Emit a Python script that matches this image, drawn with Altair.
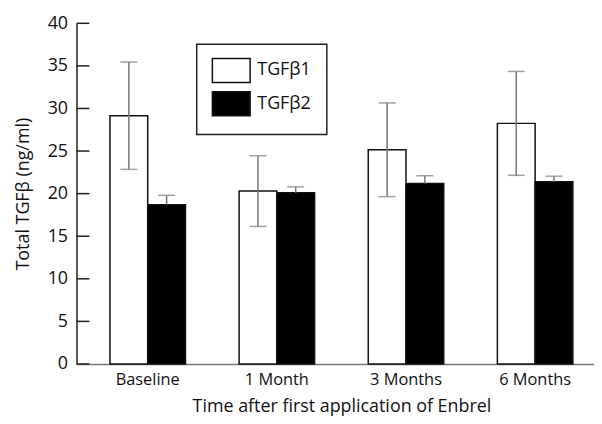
import altair as alt
import pandas as pd

categories = ["Baseline", "1 Month", "3 Months", "6 Months"]
series = ["TGFβ1", "TGFβ2"]
tgf1_mean = [29.15, 20.3, 25.15, 28.25]
tgf1_err = [6.3, 4.15, 5.5, 6.1]
tgf2_mean = [18.7, 20.1, 21.2, 21.4]
tgf2_err = [1.1, 0.7, 0.9, 0.65]
y_ticks = [0, 5, 10, 15, 20, 25, 30, 35, 40]

FONT = "Open Sans"

bar_rows, cap_rows = [], []
for i, c in enumerate(categories):
    m1, e1 = tgf1_mean[i], tgf1_err[i]
    m2, e2 = tgf2_mean[i], tgf2_err[i]
    bar_rows.append({"time": c, "series": series[0], "mean": m1, "lo": m1 - e1, "hi": m1 + e1})
    bar_rows.append({"time": c, "series": series[1], "mean": m2, "lo": m2, "hi": m2 + e2})
    cap_rows.append({"time": c, "series": series[0], "cap": m1 + e1})
    cap_rows.append({"time": c, "series": series[0], "cap": m1 - e1})
    cap_rows.append({"time": c, "series": series[1], "cap": m2 + e2})

bars_df = pd.DataFrame(bar_rows)
caps_df = pd.DataFrame(cap_rows)
ticks_df = pd.DataFrame({"v": y_ticks})

x_enc = alt.X(
    "time:N",
    sort=categories,
    scale=alt.Scale(domain=categories, range=[0, 533.4], paddingInner=0.4154, paddingOuter=0.259),
    axis=alt.Axis(
        title="Time after first application of Enbrel",
        labelAngle=0,
        ticks=False,
        domainColor="#777777",
        domainWidth=1.5,
        labelPadding=8,
        titlePadding=9,
        labelFontSize=16.5,
        titleFontSize=18,
        labelFont=FONT,
        titleFont=FONT,
        labelColor="#111111",
        titleColor="#111111",
        titleFontWeight="normal",
    ),
)
xo_enc = alt.XOffset("series:N", sort=series, scale=alt.Scale(domain=series))
y_scale = alt.Scale(domain=[0, 40], nice=False)

bars = alt.Chart(bars_df).mark_bar(stroke="#111111", strokeWidth=1.5).encode(
    x=x_enc,
    xOffset=xo_enc,
    y=alt.Y(
        "mean:Q",
        scale=y_scale,
        axis=alt.Axis(
            values=y_ticks,
            ticks=False,
            grid=False,
            domainColor="#222222",
            domainWidth=1.5,
            labelPadding=9,
            labelFontSize=18,
            labelFont=FONT,
            labelColor="#111111",
            title="Total TGFβ (ng/ml)",
            titleFontSize=18,
            titleFont=FONT,
            titleColor="#111111",
            titleFontWeight="normal",
            titlePadding=15,
        ),
    ),
    fill=alt.Fill(
        "series:N",
        sort=series,
        scale=alt.Scale(domain=series, range=["white", "black"]),
        legend=alt.Legend(
            title=None,
            orient="none",
            legendX=121,
            legendY=21,
            padding=16,
            strokeColor="#222222",
            symbolType="M-1.1,-1.23L2.8,-1.23L2.8,1.23L-1.1,1.23Z",
            symbolSize=380,
            symbolStrokeColor="#111111",
            symbolStrokeWidth=1.5,
            symbolOpacity=1,
            labelOffset=24,
            labelFontSize=18,
            labelFont=FONT,
            labelColor="#111111",
            labelExpr="datum.label + '\u00a0\u00a0\u00a0\u00a0'",
            rowPadding=2.5,
        ),
    ),
)

err = alt.Chart(bars_df).mark_rule(color="#777777", strokeWidth=1.5).encode(
    x=x_enc, xOffset=xo_enc, y=alt.Y("lo:Q", scale=y_scale), y2="hi:Q"
)

caps = alt.Chart(caps_df).mark_tick(color="#777777", thickness=1.5, size=17).encode(
    x=x_enc, xOffset=xo_enc, y=alt.Y("cap:Q", scale=y_scale)
)

yticks = alt.Chart(ticks_df).mark_rule(color="#222222", strokeWidth=1.5).encode(
    y=alt.Y("v:Q", scale=y_scale), x=alt.value(0), x2=alt.value(13)
)

chart = (
    alt.layer(bars, err, caps, yticks)
    .properties(
        width=521,
        height=343,
        autosize=alt.AutoSizeParams(type="none"),
        padding={"left": 69, "top": 14, "right": 0, "bottom": 56},
    )
    .configure_view(stroke=None)
    .configure_legend(strokeWidth=1.5)
)

chart.save("out.html", embed_options={"renderer": "svg", "actions": False})
